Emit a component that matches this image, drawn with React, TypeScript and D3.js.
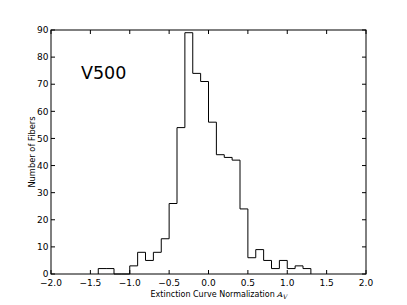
import React from "react";
import * as d3 from "d3";

const binEdges = [-1.4, -1.3, -1.2, -1.1, -1.0, -0.9, -0.8, -0.7, -0.6, -0.5, -0.4, -0.3, -0.2, -0.1, 0.0, 0.1, 0.2, 0.3, 0.4, 0.5, 0.6, 0.7, 0.8, 0.9, 1.0, 1.1, 1.2, 1.3];
const counts = [2, 2, 0, 0, 3, 8, 5, 8, 13, 26, 54, 89, 74, 71, 56, 44, 43, 42, 24, 6, 9, 5, 2, 5, 2, 3, 2];
const xTicks = [-2.0, -1.5, -1.0, -0.5, 0.0, 0.5, 1.0, 1.5, 2.0];
const yTicks = [0, 10, 20, 30, 40, 50, 60, 70, 80, 90];

const W = 407, H = 305;
const L = 51, R = 366, T = 30, B = 274;
const FONT = "DejaVu Sans, sans-serif";

export default function App() {
  const x = d3.scaleLinear().domain([-2, 2]).range([L, R]);
  const y = d3.scaleLinear().domain([0, 90]).range([B, T]);

  const pts: [number, number][] = [];
  pts.push([x(binEdges[0]), y(0)]);
  counts.forEach((c, i) => {
    pts.push([x(binEdges[i]), y(c)]);
    pts.push([x(binEdges[i + 1]), y(c)]);
  });
  pts.push([x(binEdges[binEdges.length - 1]), y(0)]);
  const line = d3.line();
  const fmt = (v: number) => (v < 0 ? "\u2212" : "") + Math.abs(v).toFixed(1);

  return (
    <svg width={W} height={H} style={{ position: "absolute", left: 0, top: 0, background: "#fff" }}>
      <rect x={0} y={0} width={W} height={H} fill="#fff" />
      <path d={line(pts) || ""} fill="none" stroke="#000" strokeWidth={1} />
      <rect x={L} y={T} width={R - L} height={B - T} fill="none" stroke="#000" strokeWidth={1} />
      {xTicks.map((t) => (
        <g key={"x" + t}>
          <line x1={x(t)} x2={x(t)} y1={B} y2={B - 4} stroke="#000" />
          <line x1={x(t)} x2={x(t)} y1={T} y2={T + 4} stroke="#000" />
          <text x={x(t)} y={285.5} fontSize={9} fontFamily={FONT} textAnchor="middle">{fmt(t)}</text>
        </g>
      ))}
      {yTicks.map((t) => (
        <g key={"y" + t}>
          <line x1={L} x2={L + 4} y1={y(t)} y2={y(t)} stroke="#000" />
          <line x1={R} x2={R - 4} y1={y(t)} y2={y(t)} stroke="#000" />
          <text x={48.5} y={y(t) + 3.2} fontSize={9} fontFamily={FONT} textAnchor="end">{t}</text>
        </g>
      ))}
      <text x={219} y={297} fontSize={8} fontFamily={FONT} textAnchor="middle">
        Extinction Curve Normalization{" "}
        <tspan fontFamily="DejaVu Serif, serif" fontStyle="italic">A</tspan>
        <tspan fontFamily="DejaVu Serif, serif" fontStyle="italic" fontSize={6} dy={2}>V</tspan>
      </text>
      <text transform={`translate(35,152) rotate(-90)`} fontSize={8.3} fontFamily={FONT} textAnchor="middle">
        Number of Fibers
      </text>
      <text x={81} y={79} fontSize={17.5} fontFamily={FONT}>V500</text>
    </svg>
  );
}
